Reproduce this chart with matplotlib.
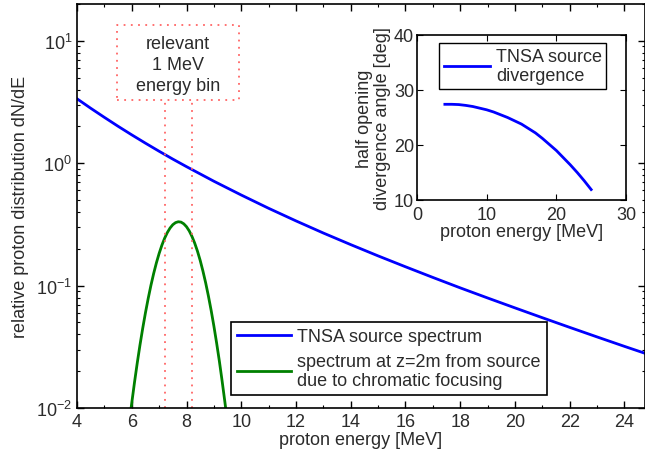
import numpy as np
import matplotlib
matplotlib.use("Agg")
import matplotlib.pyplot as plt
from matplotlib.ticker import FixedLocator, FixedFormatter, LogLocator, NullFormatter

plt.rcParams['font.family'] = ['Liberation Sans', 'DejaVu Sans']
plt.rcParams['mathtext.default'] = 'regular'
FS = 13
plt.rcParams['font.size'] = FS
TXT = '#2b2b2b'

# TNSA source spectrum (relative dN/dE)
src_energy = [4, 4.5, 5, 5.5, 6, 6.5, 7, 7.5, 8, 9, 10, 11, 12, 13, 14, 15, 16,
              17, 18, 19, 20, 21, 22, 23, 24, 24.75]
src_dnde = [3.365, 2.815, 2.371, 2.005, 1.706, 1.459, 1.253, 1.081, 0.938,
            0.713, 0.550, 0.4285, 0.338, 0.269, 0.2163, 0.175, 0.1426, 0.1167,
            0.0959, 0.0793, 0.0658, 0.0547, 0.0456, 0.0381, 0.0319, 0.028]

# spectrum at z=2m due to chromatic focusing
foc_energy = [5.96, 6.0, 6.1, 6.2, 6.3, 6.4, 6.5, 6.6, 6.7, 6.8, 6.9, 7.0, 7.1,
              7.2, 7.3, 7.4, 7.5, 7.6, 7.7, 7.8, 7.9, 8.0, 8.1, 8.2, 8.3, 8.4,
              8.5, 8.6, 8.7, 8.8, 8.9, 9.0, 9.1, 9.2, 9.3, 9.4, 9.47]
foc_dnde = [0.0094, 0.0110, 0.0162, 0.0233, 0.0327, 0.0448, 0.060, 0.0785,
            0.1005, 0.1256, 0.1535, 0.1832, 0.2138, 0.2438, 0.2716, 0.2958,
            0.3148, 0.3273, 0.3327, 0.3304, 0.320, 0.303, 0.280, 0.2523,
            0.2223, 0.1914, 0.1607, 0.1316, 0.1054, 0.0823, 0.0628, 0.0468,
            0.0340, 0.0242, 0.0167, 0.0113, 0.0085]

# divergence angle (inset)
div_energy = [4, 5, 6, 7, 8, 9, 10, 11, 12, 13, 14, 15, 16, 17, 18, 19, 20,
              21, 22, 23, 24, 25]
div_angle = [27.4, 27.4, 27.35, 27.2, 27.0, 26.7, 26.4, 26.0, 25.5, 25.0, 24.4,
             23.8, 23.0, 22.2, 21.2, 20.1, 19.0, 17.7, 16.4, 15.0, 13.5, 11.9]

bin_edges = [7.2, 8.2]
xticks = [4, 6, 8, 10, 12, 14, 16, 18, 20, 22, 24]
yticks = [1e-2, 1e-1, 1e0, 1e1]
ytick_labels = ['$10^{-2}$', '$10^{-1}$', '$10^{0}$', '$10^{1}$']

fig = plt.figure(figsize=(6.45, 4.56), dpi=100)
ax = fig.add_axes([0.1194, 0.103, 0.8806, 0.886])

ax.plot(src_energy, src_dnde, color='#0000ff', lw=2, label='TNSA source spectrum')
ax.plot(foc_energy, foc_dnde, color='#008000', lw=2,
        label='spectrum at z=2m from source\ndue to chromatic focusing')

# the energy-bin box and its two lines
red = (1.0, 0.4, 0.4)
bx0, bx1, by0, by1 = 5.46, 9.92, 3.28, 13.5
ax.plot([bx0, bx1, bx1, bx0, bx0], [by0, by0, by1, by1, by0], ls=(0, (1, 3)),
        color=red, lw=1.3)
for e in bin_edges:
    ax.plot([e, e], [0.01, by0], ls=(0, (1, 3)), color=red, lw=1.3)
ax.text((bx0 + bx1) / 2, np.sqrt(by0 * by1) * 0.97, 'relevant\n1 MeV\nenergy bin',
        ha='center', va='center', color=TXT, linespacing=1.3)

ax.set_yscale('log')
ax.set_xlim(4, 24.75)
ax.set_ylim(1e-2, 20)
ax.xaxis.set_major_locator(FixedLocator(xticks))
ax.xaxis.set_minor_locator(FixedLocator(np.arange(5, 25, 2)))
ax.yaxis.set_major_locator(FixedLocator(yticks))
ax.yaxis.set_major_formatter(FixedFormatter(ytick_labels))
ax.yaxis.set_minor_locator(LogLocator(base=10, subs=np.arange(2, 10)))
ax.yaxis.set_minor_formatter(NullFormatter())
ax.tick_params(which='both', direction='in', top=True, right=True, colors='black',
               labelcolor=TXT, labelsize=FS)
ax.tick_params(which='major', length=5, width=1)
ax.tick_params(which='minor', length=2.5, width=0.8)
for s in ax.spines.values():
    s.set_linewidth(1.2)
ax.set_xlabel('proton energy [MeV]', color=TXT, labelpad=1)
ax.set_ylabel('relative proton distribution dN/dE', color=TXT, labelpad=5)

leg = ax.legend(loc='upper left', bbox_to_anchor=(231 / 645, 1 - 323 / 456),
                bbox_transform=fig.transFigure, fancybox=False, framealpha=1,
                edgecolor='black', handlelength=3.0, borderpad=0.35,
                borderaxespad=0, labelspacing=0.4, handletextpad=0.3,
                fontsize=FS)
leg.get_frame().set_linewidth(1.2)
for t in leg.get_texts():
    t.set_color(TXT)
    t.set_linespacing(1.2)

# inset
ins = fig.add_axes([417 / 645, 1 - 201 / 456, 209 / 645, 165 / 456])
ins.plot(div_energy, div_angle, color='#0000ff', lw=2, label='TNSA source\ndivergence')
ins.set_xlim(0, 30)
ins.set_ylim(10, 40)
ins.set_xticks([0, 10, 20, 30])
ins.set_yticks([10, 20, 30, 40])
ins.tick_params(direction='in', top=True, right=True, length=4, labelcolor=TXT,
                labelsize=FS)
ins.tick_params(axis='x', pad=4)
ins.tick_params(axis='y', pad=2)
for s in ins.spines.values():
    s.set_linewidth(1.2)
ins.set_xlabel('proton energy [MeV]', color=TXT, labelpad=0)
ins.set_ylabel('half opening\ndivergence angle [deg]', color=TXT, labelpad=2,
               linespacing=1.1)
leg2 = ins.legend(loc='upper left', bbox_to_anchor=(439 / 645, 1 - 44 / 456),
                  bbox_transform=fig.transFigure, fancybox=False, framealpha=1,
                  edgecolor='black', handlelength=2.6, borderpad=0.25,
                  borderaxespad=0, handletextpad=0.3, fontsize=FS)
leg2.get_frame().set_linewidth(1.0)
for t in leg2.get_texts():
    t.set_color(TXT)
    t.set_linespacing(1.2)

fig.savefig('out.png', dpi=100)
